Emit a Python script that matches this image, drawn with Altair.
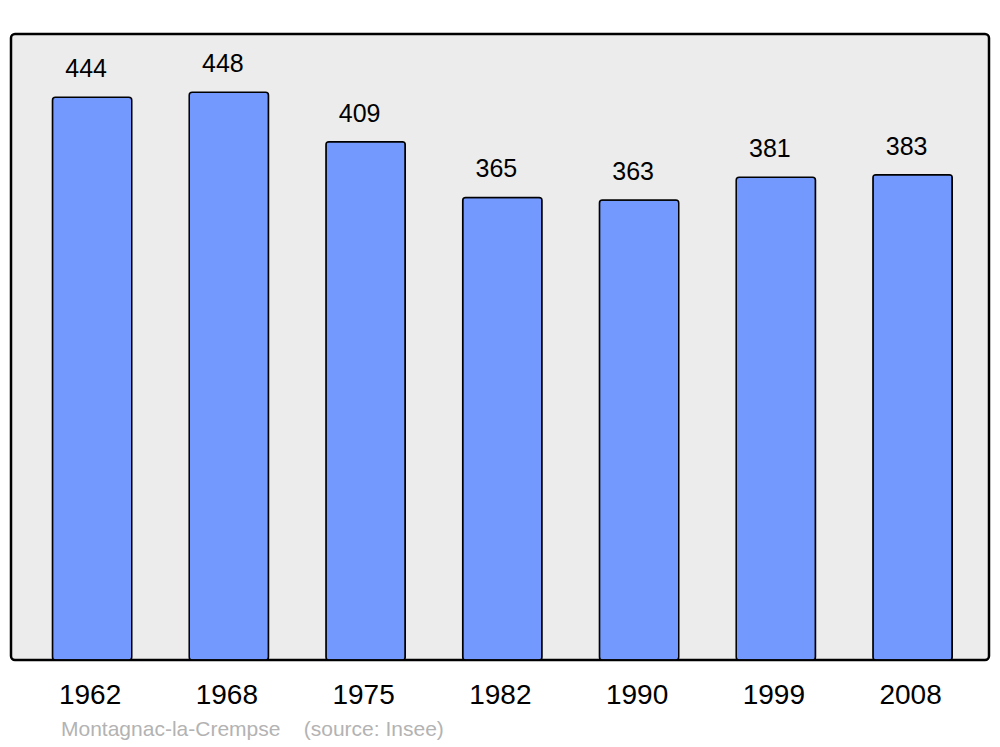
import altair as alt
import pandas as pd

years = ["1962", "1968", "1975", "1982", "1990", "1999", "2008"]
population = [444, 448, 409, 365, 363, 381, 383]
footer = "Montagnac-la-Crempse\u00a0\u00a0\u00a0\u00a0(source: Insee)"

df = pd.DataFrame({"year": years, "pop": population})

x = alt.X("year:N", sort=years, title=None,
          scale=alt.Scale(paddingInner=0.42, paddingOuter=0.286, align=0.53),
          axis=alt.Axis(labelAngle=0, labelFontSize=28, labelColor="black",
                        labelFont="Liberation Sans", domain=False, ticks=False,
                        labelPadding=21, labelOffset=-2))
y = alt.Y("pop:Q", title=None, scale=alt.Scale(domain=[0, 494], nice=False),
          axis=None)

bars = alt.Chart(df).mark_bar(
    color="#7399ff", stroke="black", strokeWidth=1.5, cornerRadius=3
).encode(x=x, y=y)

labels = alt.Chart(df).mark_text(
    baseline="bottom", dy=-15, dx=-6, fontSize=25, font="Liberation Sans", color="black"
).encode(x=x, y=y, text="pop:Q")

chart = (bars + labels).properties(
    width=978, height=626,
    padding={"left": 3, "top": 26, "right": 3, "bottom": 81},
    autosize=alt.AutoSizeParams(type="none"),
    title=alt.Title(footer, orient="bottom", anchor="start", fontSize=21,
                    font="Liberation Sans", fontWeight="normal", color="#b3b3b3",
                    dx=50, offset=10)
).configure_view(
    fill="#ececec", stroke="black", strokeWidth=2.5, cornerRadius=4
)

chart.save("out.html", embed_options={"renderer": "svg", "actions": False})
